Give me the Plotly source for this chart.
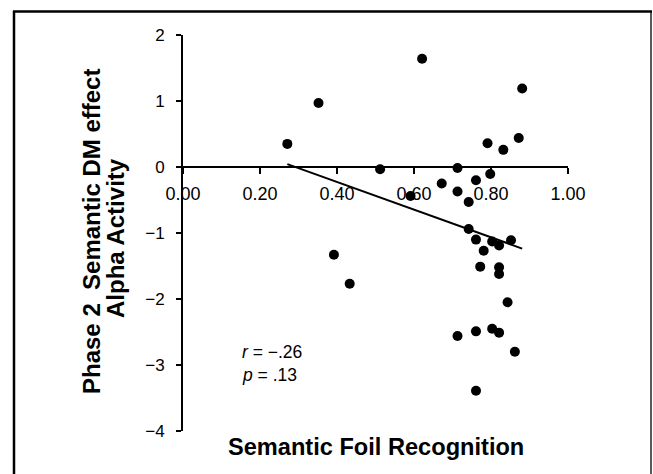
import numpy as np
import plotly.graph_objects as go

# Data
foil_recognition = [0.271, 0.352, 0.621, 0.881, 0.872, 0.791, 0.832, 0.512, 0.713, 0.798,
                    0.672, 0.761, 0.713, 0.591, 0.742, 0.742, 0.761, 0.803, 0.821, 0.852,
                    0.781, 0.392, 0.772, 0.821, 0.821, 0.433, 0.843, 0.713, 0.761, 0.803,
                    0.821, 0.862, 0.761]
alpha_dm_effect = [0.35, 0.97, 1.64, 1.19, 0.44, 0.36, 0.26, -0.035, -0.015, -0.106,
                   -0.25, -0.20, -0.37, -0.44, -0.53, -0.94, -1.10, -1.13, -1.19, -1.11,
                   -1.27, -1.33, -1.51, -1.52, -1.62, -1.77, -2.05, -2.56, -2.49, -2.45,
                   -2.51, -2.80, -3.39]
x_ticks = [0.0, 0.2, 0.4, 0.6, 0.8, 1.0]
y_ticks = [-4, -3, -2, -1, 0, 1, 2]
stats_text = ["<i>r</i> = \u2212.26", "<i>p</i> = .13"]
x_title = "Semantic Foil Recognition"
y_title_lines = ["Phase 2\u00a0\u00a0Semantic DM effect", "Alpha Activity"]

# Linear fit (trend line) computed from the data
xa = np.array(foil_recognition)
ya = np.array(alpha_dm_effect)
slope, intercept = np.polyfit(xa, ya, 1)
fit_x = np.array([xa.min(), xa.max()])
fit_y = slope * fit_x + intercept

W, H = 653, 474
ML, MR, MT, MB = 183, 85, 35, 43
PW, PH = W - ML - MR, H - MT - MB

def px(x):
    return (x - ML) / PW

def py(y):
    return (H - MB - y) / PH

FONT = "Liberation Sans, Arial, Helvetica, sans-serif"

fig = go.Figure()
fig.add_trace(go.Scatter(x=fit_x, y=fit_y, mode="lines",
                         line=dict(color="black", width=2), hoverinfo="skip"))
fig.add_trace(go.Scatter(x=foil_recognition, y=alpha_dm_effect, mode="markers",
                         marker=dict(color="black", size=10, line=dict(width=0))))

fig.update_layout(
    width=W, height=H,
    margin=dict(l=ML, r=MR, t=MT, b=MB, pad=0),
    paper_bgcolor="white", plot_bgcolor="white",
    showlegend=False,
    font=dict(family=FONT, color="black"),
    xaxis=dict(range=[0, 1], tickvals=x_ticks, tickformat=".2f",
               anchor="free", position=4 / 6,
               showline=True, linecolor="black", linewidth=2,
               ticks="outside", ticklen=6, tickwidth=2, tickcolor="black",
               showgrid=False, zeroline=False,
               tickfont=dict(size=18, family=FONT, color="black"),
               ticklabelstandoff=4),
    yaxis=dict(range=[-4, 2], tickvals=y_ticks,
               showline=True, linecolor="black", linewidth=2,
               ticks="outside", ticklen=5, tickwidth=2, tickcolor="black",
               showgrid=False, zeroline=False,
               tickfont=dict(size=17, family=FONT, color="black"),
               ticklabelstandoff=8),
)

ann = [
    dict(text=stats_text[0], x=px(240), y=py(352), xanchor="left", yanchor="middle",
         font=dict(size=17.5)),
    dict(text=stats_text[1], x=px(240), y=py(375), xanchor="left", yanchor="middle",
         font=dict(size=17.5)),
    dict(text="<b>" + x_title + "</b>", x=px(376), y=py(447), xanchor="center",
         yanchor="middle", font=dict(size=23.6)),
    dict(text="<b>" + y_title_lines[0] + "</b>", x=px(91), y=py(232), textangle=-90,
         xanchor="center", yanchor="middle", font=dict(size=24)),
    dict(text="<b>" + y_title_lines[1] + "</b>", x=px(115), y=py(238), textangle=-90,
         xanchor="center", yanchor="middle", font=dict(size=24)),
]
for a in ann:
    a.update(xref="paper", yref="paper", showarrow=False)
    a["font"].update(family=FONT, color="black")
fig.update_layout(annotations=ann)

# Figure frame (left and top heavy, right thin; bottom runs off the page)
frame = [
    (14, 11, 14, 490, 2.5),
    (13, 11.5, 652, 11.5, 2.5),
    (651, 11, 651, 490, 1.3),
]
for x0, y0, x1, y1, w in frame:
    fig.add_shape(type="line", xref="paper", yref="paper", layer="above",
                  x0=px(x0), x1=px(x1), y0=py(y0), y1=py(y1),
                  line=dict(color="black", width=w))

fig.write_html("out.html", config={"displayModeBar": False},
               post_script="document.body.style.margin='0';document.body.style.overflow='hidden';")
